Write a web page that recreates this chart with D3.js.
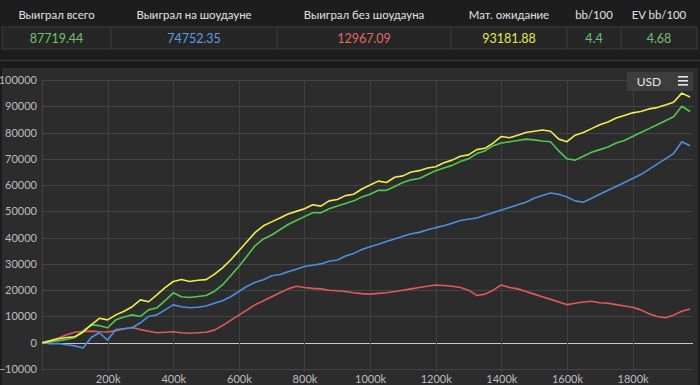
<!DOCTYPE html>
<html>
<head>
<meta charset="utf-8">
<script src="https://cdn.jsdelivr.net/npm/d3@7/dist/d3.min.js"></script>
<style>
  body { margin: 0; background: #1c1c1c; }
  svg { display: block; font-family: Lato, "Open Sans", sans-serif; }
</style>
</head>
<body>
<script>
// table
let headers = ["Выиграл всего", "Выиграл на шоудауне", "Выиграл без шоудауна", "Мат. ожидание", "bb/100", "EV bb/100"];
let values = ["87719.44", "74752.35", "12967.09", "93181.88", "4.4", "4.68"];
let valueColors = ["#72c172", "#5b9fe3", "#e06868", "#e6e65c", "#72c172", "#72c172"];

// chart: one value every 25k hands, 8 values per 200k row
let step = 25000;
let yTicks = [-10000, 0, 10000, 20000, 30000, 40000, 50000, 60000, 70000, 80000, 90000, 100000];
let xTicks = [200000, 400000, 600000, 800000, 1000000, 1200000, 1400000, 1600000, 1800000];

let evLine = [
  0, 700, 1500, 2000, 2300, 4000, 6800, 9300,
  8700, 10600, 12000, 13700, 16300, 15600, 18200, 21000,
  23300, 24100, 23300, 23800, 24000, 26000, 28500, 31500,
  35000, 38500, 42000, 44500, 46000, 47500, 49000, 50000,
  51000, 52500, 52000, 54000, 54500, 56000, 56500, 58500,
  60000, 61500, 61000, 63000, 63500, 65000, 65500, 66500,
  67000, 68500, 69500, 71000, 71500, 73500, 74000, 76000,
  78500, 78000, 79000, 80000, 80500, 81000, 80500, 77500,
  76500, 79000, 80000, 81500, 83000, 84000, 85500, 86500,
  87500, 88000, 89000, 89500, 90500, 91500, 95000, 93500];

let totalLine = [
  0, 300, 800, 1200, 2000, 4500, 6800, 6500,
  5700, 8700, 9800, 10600, 10000, 12500, 13300, 16000,
  19000, 17500, 17200, 17600, 18000, 19500, 22000, 25500,
  29000, 33000, 37000, 39500, 41000, 43000, 45000, 46500,
  48000, 49500, 49500, 51000, 52000, 53000, 54000, 55500,
  56500, 58000, 58000, 59500, 61000, 62000, 62500, 64000,
  65500, 66500, 67500, 69000, 70000, 72000, 73000, 75000,
  76000, 76500, 77000, 77500, 77200, 76800, 76500, 73000,
  70000, 69500, 71000, 72500, 73500, 74500, 76000, 77000,
  78500, 80000, 81500, 83000, 84500, 86000, 90000, 88000];

let showdownLine = [
  0, -400, -300, -800, -1200, -2000, 2000, 3800,
  1000, 5000, 5300, 5700, 7600, 10000, 10600, 12500,
  14400, 13700, 13300, 13500, 14000, 15000, 16000, 17500,
  19500, 21500, 23000, 24000, 25500, 26000, 27000, 28000,
  29000, 29500, 30000, 31000, 31500, 33000, 34000, 35500,
  36500, 37500, 38500, 39500, 40500, 41500, 42000, 43000,
  43800, 44500, 45500, 46500, 47000, 47500, 48500, 49500,
  50500, 51500, 52500, 53500, 55000, 56000, 57000, 56500,
  55500, 54000, 53500, 55000, 56500, 58000, 59500, 61000,
  62500, 64000, 66000, 68000, 70000, 72000, 76500, 75000];

let nonShowdownLine = [
  0, 800, 1800, 3000, 4000, 4300, 4400, 4200,
  4100, 4600, 5300, 5800, 5000, 4400, 3800, 4000,
  4200, 3800, 3600, 3800, 4000, 4800, 6500, 8500,
  10500, 12500, 14500, 16000, 17500, 19000, 20500, 21500,
  21000, 20700, 20500, 20000, 19800, 19500, 19000, 18700,
  18500, 18800, 19000, 19500, 20000, 20500, 21000, 21500,
  22000, 21800, 21500, 21000, 20000, 18000, 18500, 20000,
  22000, 21000, 20500, 19500, 18500, 17500, 16500, 15500,
  14500, 15000, 15500, 15800, 15200, 15000, 14500, 14000,
  13500, 12500, 11000, 10000, 9500, 10500, 12000, 12800];

let seriesList = [
  {values: nonShowdownLine, color: "#e05a5a"},
  {values: showdownLine, color: "#4c8fe0"},
  {values: totalLine, color: "#4fc94f"},
  {values: evLine, color: "#eeee4e"}
];

let width = 700, height = 385;
let svg = d3.select("body").append("svg").attr("width", width).attr("height", height);

// table
let colEdges = [2, 111, 277, 451, 567, 621, 697];
svg.append("rect").attr("x", 0).attr("y", 0).attr("width", width).attr("height", 60).attr("fill", "#1d1d1d");
svg.append("rect").attr("x", 2).attr("y", 27).attr("width", 695).attr("height", 22)
  .attr("fill", "#262626").attr("stroke", "#3c3c3c");

for (let i = 0; i < headers.length; ++i)
{
  let x0 = colEdges[i], x1 = colEdges[i + 1];
  if (i > 0)
    svg.append("line").attr("x1", x0).attr("x2", x0).attr("y1", 27).attr("y2", 49).attr("stroke", "#3c3c3c");
  svg.append("text").attr("x", (x0 + x1) / 2).attr("y", 19).attr("text-anchor", "middle")
    .attr("font-size", 11.4).attr("fill", "#e2e2e2").text(headers[i]);
  svg.append("text").attr("x", (x0 + x1) / 2).attr("y", 43).attr("text-anchor", "middle")
    .attr("font-size", 12.5).attr("fill", valueColors[i]).text(values[i]);
}

// chart panel
svg.append("rect").attr("x", 0).attr("y", 60).attr("width", width).attr("height", 1).attr("fill", "#3a3a3a");
svg.append("rect").attr("x", 2).attr("y", 68).attr("width", 696).attr("height", 317).attr("fill", "#2c2c2d");

let x = d3.scaleLinear().domain([0, 1975000]).range([42, 690]);
let y = d3.scaleLinear().domain([-10000, 100000]).range([369, 80]);

let grid = svg.append("g");
grid.selectAll(".hg").data(yTicks).enter().append("line")
  .attr("x1", 42).attr("x2", 693)
  .attr("y1", d => Math.round(y(d)) + 0.5).attr("y2", d => Math.round(y(d)) + 0.5)
  .attr("stroke", d => d == 0 ? "#c8c8c8" : "#434345");
grid.selectAll(".vg").data([0].concat(xTicks)).enter().append("line")
  .attr("x1", d => Math.round(x(d)) + 0.5).attr("x2", d => Math.round(x(d)) + 0.5)
  .attr("y1", 80).attr("y2", 372)
  .attr("stroke", "#404042");

let yAxis = d3.axisLeft(y).tickValues(yTicks).tickSize(0).tickPadding(5).tickFormat(d3.format("d"));
let gy = svg.append("g").attr("transform", "translate(42,0)").call(yAxis);
gy.select(".domain").remove();
gy.selectAll("text").attr("fill", "#bdbdbd").attr("font-size", 11).attr("font-family", "Lato, sans-serif");

let xAxis = d3.axisBottom(x).tickValues(xTicks).tickSize(0).tickPadding(4).tickFormat(d => (d / 1000) + "k");
let gx = svg.append("g").attr("transform", "translate(0,371)").call(xAxis);
gx.select(".domain").remove();
gx.selectAll("text").attr("fill", "#bdbdbd").attr("font-size", 11).attr("font-family", "Lato, sans-serif");

let line = d3.line().x((d, i) => x(i * step)).y(d => y(d));
svg.selectAll(".series").data(seriesList).enter().append("path")
  .attr("d", d => line(d.values))
  .attr("fill", "none")
  .attr("stroke", d => d.color)
  .attr("stroke-width", 1.6)
  .attr("stroke-linejoin", "round");

// USD button
svg.append("rect").attr("x", 627).attr("y", 72).attr("width", 66).attr("height", 19).attr("fill", "#3d3d3e");
svg.append("text").attr("x", 649).attr("y", 86).attr("text-anchor", "middle")
  .attr("font-size", 12).attr("fill", "#e8e8e8").text("USD");
for (let k = 0; k < 3; ++k)
  svg.append("rect").attr("x", 678).attr("y", 76 + k * 4).attr("width", 10).attr("height", 1.6).attr("fill", "#e8e8e8");
</script>
</body>
</html>
